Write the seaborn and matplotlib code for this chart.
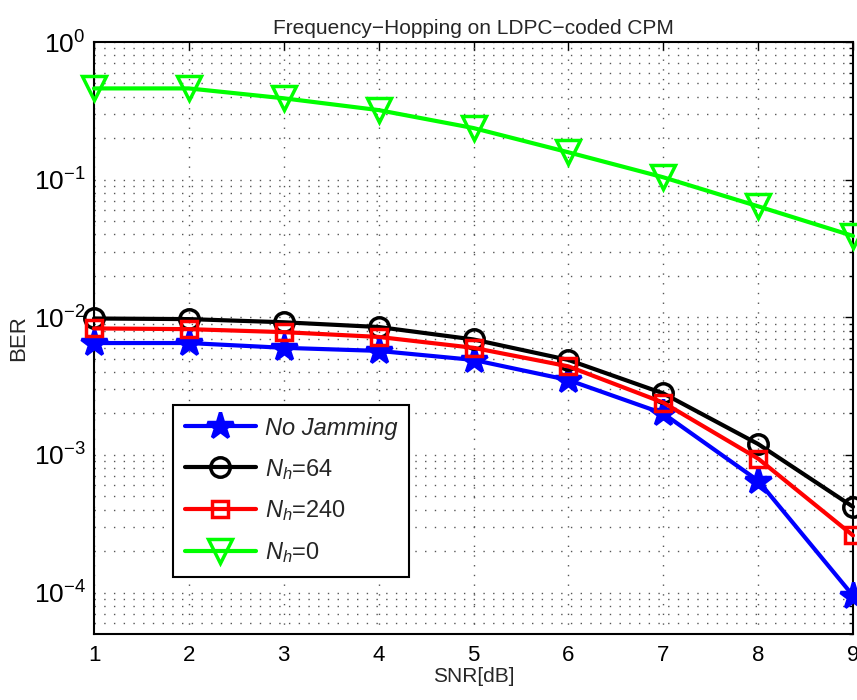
import numpy as np
import pandas as pd
import seaborn as sns
import matplotlib
matplotlib.use("Agg")
import matplotlib.pyplot as plt
from matplotlib.ticker import LogLocator, NullFormatter

snr = [1, 2, 3, 4, 5, 6, 7, 8, 9]
ber_nojam = [0.0065, 0.0065, 0.0060, 0.0057, 0.0049, 0.0035, 0.0020, 0.00065, 0.000095]
ber_nh64 = [0.0098, 0.0097, 0.0092, 0.0085, 0.0069, 0.0049, 0.0028, 0.0012, 0.00042]
ber_nh240 = [0.0083, 0.0082, 0.0078, 0.0072, 0.0060, 0.0044, 0.0024, 0.00094, 0.00026]
ber_nh0 = [0.46, 0.46, 0.39, 0.32, 0.237, 0.158, 0.104, 0.064, 0.039]

sns.set_theme(style="white")
plt.rcParams['font.family'] = ['Liberation Sans', 'DejaVu Sans']
plt.rcParams['mathtext.fontset'] = 'custom'
plt.rcParams['mathtext.rm'] = 'Liberation Sans'
plt.rcParams['mathtext.it'] = 'Liberation Sans:italic'

fig = plt.figure(figsize=(8.57, 7.0), dpi=100)
ax = fig.add_axes([94/857, 1 - 634/700, (853-94)/857, (634-42)/700])

series = [
    (ber_nojam, 'No Jamming', 'blue', '*', 20, 'blue'),
    (ber_nh64, r'$N_h$=64', 'black', 'o', 14, 'none'),
    (ber_nh240, r'$N_h$=240', 'red', 's', 11, 'none'),
    (ber_nh0, r'$N_h$=0', '#00ff00', 'v', 17, 'none'),
]
for vals, lab, col, mk, ms, fc in series:
    df = pd.DataFrame({'SNR': snr, 'BER': vals})
    sns.lineplot(data=df, x='SNR', y='BER', ax=ax, color=col, linewidth=3,
                 marker=mk, markersize=ms, markerfacecolor=fc,
                 markeredgecolor=col, markeredgewidth=2.5, label=lab,
                 clip_on=False, zorder=3)

ax.set_yscale('log')
ax.set_xlim(1, 9)
ax.set_ylim(5e-5, 1)
ax.set_xticks(snr)
ax.yaxis.set_major_locator(LogLocator(base=10, numticks=10))
ax.yaxis.set_minor_locator(LogLocator(base=10, subs=np.arange(2, 10), numticks=20))
ax.yaxis.set_minor_formatter(NullFormatter())
ax.tick_params(axis='both', which='both', direction='in', top=True, right=True,
               colors='black')
ax.tick_params(axis='x', labelsize=16, pad=8)
ax.tick_params(axis='y', labelsize=19, pad=6)
ax.tick_params(which='major', length=6, width=1)
ax.tick_params(which='minor', length=3, width=1)
ax.grid(True, which='major', axis='x', linestyle=(0, (1, 6)), color='#555555', linewidth=1)
ax.grid(True, which='both', axis='y', linestyle=(0, (1, 6)), color='#555555', linewidth=1)
for s in ax.spines.values():
    s.set_color('black')
    s.set_linewidth(1.5)

ax.set_xlabel('SNR[dB]', fontsize=15, labelpad=1)
ax.set_ylabel('BER', fontsize=16, labelpad=3)
ax.set_title('Frequency\u2212Hopping on LDPC\u2212coded CPM', fontsize=15, pad=6)

leg = ax.legend(loc='lower left', bbox_to_anchor=(0.104, 0.096), borderaxespad=0,
                fontsize=17, frameon=True, fancybox=False, edgecolor='black',
                framealpha=1, handlelength=3.0, handletextpad=0.4,
                labelspacing=0.72, borderpad=0.5)
leg.get_frame().set_linewidth(1.5)
leg.texts[0].set_fontstyle('italic')

fig.savefig('out.png', dpi=100)
